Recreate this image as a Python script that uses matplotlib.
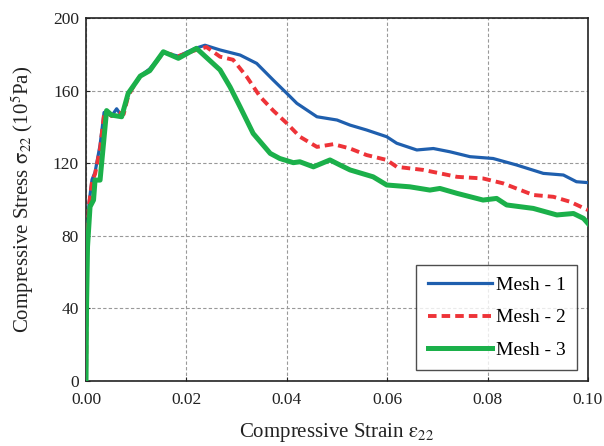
import matplotlib
matplotlib.use("Agg")
import matplotlib.pyplot as plt

plt.rcParams['font.family'] = ['Liberation Serif', 'DejaVu Serif']
plt.rcParams['mathtext.fontset'] = 'stix'

# Mesh - 1 (blue)
strain_1 = [0.0, 0.0002, 0.0006, 0.0012, 0.0018, 0.0028, 0.0036, 0.0041, 0.0051, 0.0061, 0.0071,
            0.0084, 0.0098, 0.0108, 0.0127, 0.0154, 0.0184, 0.0215, 0.0237, 0.0267, 0.0307,
            0.034, 0.0373, 0.04, 0.042, 0.046, 0.05, 0.0526, 0.0559, 0.0599, 0.0619, 0.0659,
            0.0692, 0.0725, 0.0765, 0.0811, 0.0858, 0.0911, 0.0951, 0.0977, 0.1]
stress_1 = [0, 70, 98, 111, 115, 130, 148, 148, 146, 150, 146,
            158, 164, 168, 172, 181, 179, 183, 185, 182.4, 179.6,
            175, 165.8, 158.5, 153, 145.6, 143.8, 141, 138.3, 134.6, 131, 127.3,
            128.1, 126.3, 123.6, 122.6, 119, 114.4, 113.5, 109.8, 109.3]

# Mesh - 2 (red)
strain_2 = [0.0, 0.0002, 0.0006, 0.0012, 0.0018, 0.0028, 0.0036, 0.0041, 0.0051, 0.0065, 0.0075,
            0.0084, 0.0098, 0.0108, 0.0127, 0.0154, 0.0184, 0.0215, 0.024, 0.0267, 0.0293,
            0.032, 0.0347, 0.0373, 0.04, 0.0426, 0.046, 0.0493, 0.0526, 0.0559, 0.0599,
            0.0619, 0.0672, 0.0739, 0.0791, 0.0831, 0.0891, 0.0931, 0.0964, 0.1]
stress_2 = [0, 72, 97, 110, 114, 128, 147, 148, 146, 148, 147,
            157, 164, 168, 171, 181, 179, 182, 184, 178.7, 177,
            167.7, 156.6, 149, 142, 134.6, 129, 130.5, 128.1, 124.5, 121.8,
            118, 116.3, 112.5, 111.6, 108.9, 102.5, 101.5, 98.8, 94.2]

# Mesh - 3 (green)
strain_3 = [0.0, 0.0001, 0.0003, 0.0008, 0.0015, 0.0018, 0.0028, 0.0041, 0.0051, 0.0071,
            0.0084, 0.0098, 0.0108, 0.0127, 0.0154, 0.0184, 0.022, 0.0267, 0.0287, 0.0307,
            0.0333, 0.0367, 0.0386, 0.0413, 0.0426, 0.0453, 0.0486, 0.0506, 0.0526, 0.0572,
            0.0599, 0.0645, 0.0685, 0.0705, 0.0739, 0.0791, 0.0818, 0.0838, 0.0891, 0.0938,
            0.0971, 0.0991, 0.1]
stress_3 = [0, 40, 74, 96, 99.7, 110.7, 110.7, 149, 146.5, 145.6,
            158.5, 164, 168, 171, 181.4, 177.8, 183.3, 171.4, 162, 151,
            136.4, 125.4, 122.6, 120.3, 120.8, 118, 121.8, 119, 116.3, 112.5,
            108, 107, 105.2, 106.1, 103.4, 99.7, 100.6, 97, 95.1, 91.5,
            92.3, 89.6, 86.8]

x_ticks = [0.00, 0.02, 0.04, 0.06, 0.08, 0.10]
x_tick_labels = ['0.00', '0.02', '0.04', '0.06', '0.08', '0.10']
y_ticks = [0, 40, 80, 120, 160, 200]
y_tick_labels = ['0', '40', '80', '120', '160', '200']

fig = plt.figure(figsize=(6.04, 4.46), dpi=100)
ax = fig.add_axes([0.1424, 0.1457, 0.8311, 0.8139])

ax.plot(strain_1, stress_1, color='#1f5fae', lw=2.3, label='Mesh - 1', zorder=3)
ax.plot(strain_2, stress_2, color='#ee3338', lw=2.8, ls=(0, (2.2, 1.3)), label='Mesh - 2', zorder=4)
ax.plot(strain_3, stress_3, color='#1bb04a', lw=3.6, label='Mesh - 3', zorder=5)

ax.set_xlim(0, 0.1)
ax.set_ylim(0, 200)
ax.set_xticks(x_ticks)
ax.set_xticklabels(x_tick_labels)
ax.set_yticks(y_ticks)
ax.set_yticklabels(y_tick_labels)
ax.tick_params(labelsize=12.5, direction='in', length=3, colors='#222222')
ax.tick_params(axis='x', pad=8)
ax.tick_params(axis='y', pad=5)
ax.grid(True, ls=(0, (3, 2)), color='#999999', lw=0.8)

for s in ax.spines.values():
    s.set_color('#222222')
    s.set_linewidth(1.2)

ax.set_xlabel(r'Compressive Strain $\mathrm{\varepsilon_{22}}$', fontsize=15, color='#222222', labelpad=9)
ax.set_ylabel(r'Compressive Stress $\mathrm{\sigma_{22}}$ (10$^{5}$Pa)', fontsize=15, color='#222222', labelpad=12)

leg = ax.legend(loc='lower right', fontsize=14, frameon=True, fancybox=False,
                edgecolor='#222222', handlelength=3.3, handletextpad=0.2,
                borderpad=0.6, labelspacing=0.75, borderaxespad=0.55)
leg.get_frame().set_linewidth(1.0)

fig.savefig('out.png', dpi=100)
